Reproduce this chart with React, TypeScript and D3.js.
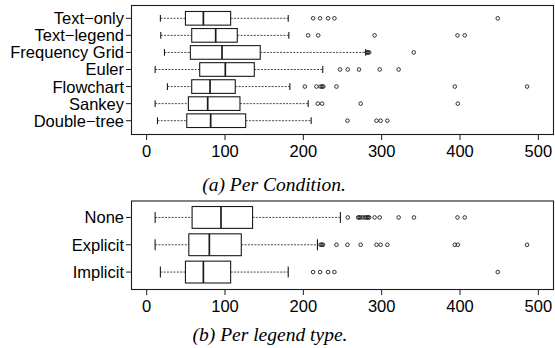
import React, { useEffect, useRef } from 'react';
import * as d3 from 'd3';

// Panel (a): per condition (top row first)
const conditions = ['Text\u2212only', 'Text\u2212legend', 'Frequency Grid', 'Euler', 'Flowchart', 'Sankey', 'Double\u2212tree'];
const condLow = [17.5, 18, 22.7, 10.8, 26.5, 10.8, 13.8];
const condQ1 = [49.5, 57.5, 55.8, 67.7, 57.5, 53.3, 51.2];
const condMedian = [72.4, 88.1, 96.2, 100.4, 80.9, 77.9, 81.7];
const condQ3 = [107.2, 115.7, 145, 137.4, 113.1, 119.1, 126.4];
const condHigh = [180.7, 181.5, 279.6, 224.8, 182.8, 206.2, 210];
const condOutliers = [
  [212.5, 221.4, 231.6, 239.7, 448.2],
  [206.2, 219, 291, 396.8, 406],
  [281, 282.5, 284, 341],
  [246.9, 256.7, 271.1, 297.5, 321.7],
  [201.9, 216.8, 222, 224, 225.5, 242.3, 393.4, 485.6],
  [218.5, 224, 273.2, 397.2],
  [256.3, 293.4, 298.7, 307.2],
];

// Panel (b): per legend type
const legendTypes = ['None', 'Explicit', 'Implicit'];
const legLow = [10.8, 10.8, 17.5];
const legQ1 = [58, 53.8, 49.5];
const legMedian = [94.9, 80, 72.4];
const legQ3 = [135.2, 120.8, 107.2];
const legHigh = [247.3, 218, 180.7];
const legOutliers = [
  [256.7, 270, 271.5, 273, 276, 279, 281, 282.5, 284, 291, 297.5, 321.7, 341.2, 396.8, 406],
  [222, 223.5, 225, 242.3, 256.3, 273.2, 293.4, 298.7, 307.2, 393.4, 397.2, 485.6],
  [212.5, 221.4, 231.6, 239.7, 448.2],
];

const xTicks = [0, 100, 200, 300, 400, 500];

const W = 555;
const H = 348;
const left = 131;
const right = 554;
const ink = '#1a1a1a';
const sans = '"Liberation Sans", Arial, sans-serif';

function drawPanel(svg, opts) {
  const { labels, low, q1, med, q3, high, outliers, top, bottom, caption, captionX, captionY } = opts;
  const n = labels.length;
  // R style: 4% padding round [0, 500] and [0.5, n + 0.5]
  const x = d3.scaleLinear().domain([-20, 520]).range([left, right]);
  const y = d3
    .scaleLinear()
    .domain([0.5 - 0.04 * n, n + 0.5 + 0.04 * n])
    .range([top, bottom]);
  const unit = Math.abs(y(1) - y(0));
  const bw = unit * 0.8;

  const g = svg.append('g');

  g.append('rect')
    .attr('x', left + 0.5)
    .attr('y', top + 0.5)
    .attr('width', right - left - 1)
    .attr('height', bottom - top)
    .attr('fill', 'none')
    .attr('stroke', ink)
    .attr('stroke-width', 1.1);

  const rows = labels.map((label, i) => ({
    label,
    pos: i + 1,
    low: low[i],
    q1: q1[i],
    med: med[i],
    q3: q3[i],
    high: high[i],
    out: outliers[i],
  }));

  const row = g.selectAll('.row').data(rows).enter().append('g');

  // whiskers
  row.append('line')
    .attr('x1', (d) => x(d.low))
    .attr('x2', (d) => x(d.q1))
    .attr('y1', (d) => y(d.pos))
    .attr('y2', (d) => y(d.pos))
    .attr('stroke', ink)
    .attr('stroke-width', 0.8)
    .attr('stroke-dasharray', '2,1.3');
  row.append('line')
    .attr('x1', (d) => x(d.q3))
    .attr('x2', (d) => x(d.high))
    .attr('y1', (d) => y(d.pos))
    .attr('y2', (d) => y(d.pos))
    .attr('stroke', ink)
    .attr('stroke-width', 0.8)
    .attr('stroke-dasharray', '2,1.3');

  // staples
  ['low', 'high'].forEach((k) => {
    row.append('line')
      .attr('x1', (d) => x(d[k]))
      .attr('x2', (d) => x(d[k]))
      .attr('y1', (d) => y(d.pos) - unit * 0.2)
      .attr('y2', (d) => y(d.pos) + unit * 0.2)
      .attr('stroke', ink)
      .attr('stroke-width', 1.1);
  });

  // boxes
  row.append('rect')
    .attr('x', (d) => x(d.q1))
    .attr('y', (d) => y(d.pos) - bw / 2)
    .attr('width', (d) => x(d.q3) - x(d.q1))
    .attr('height', bw)
    .attr('fill', 'white')
    .attr('stroke', ink)
    .attr('stroke-width', 1.1);

  row.append('line')
    .attr('x1', (d) => x(d.med))
    .attr('x2', (d) => x(d.med))
    .attr('y1', (d) => y(d.pos) - bw / 2)
    .attr('y2', (d) => y(d.pos) + bw / 2)
    .attr('stroke', ink)
    .attr('stroke-width', 1.7);

  // outliers
  row.each(function (d) {
    d3.select(this)
      .selectAll('circle')
      .data(d.out)
      .enter()
      .append('circle')
      .attr('cx', (v) => x(v))
      .attr('cy', y(d.pos))
      .attr('r', 1.8)
      .attr('fill', 'none')
      .attr('stroke', ink)
      .attr('stroke-width', 0.9);
  });

  // y axis
  const yAxis = g.append('g');
  rows.forEach((d) => {
    yAxis.append('line')
      .attr('x1', left - 5)
      .attr('x2', left)
      .attr('y1', y(d.pos))
      .attr('y2', y(d.pos))
      .attr('stroke', ink);
    yAxis.append('text')
      .attr('x', left - 7)
      .attr('y', y(d.pos))
      .attr('dy', '0.36em')
      .attr('text-anchor', 'end')
      .attr('font-family', sans)
      .attr('font-size', 16.5)
      .attr('fill', '#000')
      .text(d.label);
  });

  // x axis
  const xAxis = g.append('g');
  xAxis.append('line')
    .attr('x1', x(0))
    .attr('x2', x(500))
    .attr('y1', bottom + 0.5)
    .attr('y2', bottom + 0.5)
    .attr('stroke', ink)
    .attr('stroke-width', 1.2);
  xTicks.forEach((t) => {
    xAxis.append('line')
      .attr('x1', x(t))
      .attr('x2', x(t))
      .attr('y1', bottom)
      .attr('y2', bottom + 6)
      .attr('stroke', ink);
    xAxis.append('text')
      .attr('x', x(t))
      .attr('y', bottom + 22.5)
      .attr('text-anchor', 'middle')
      .attr('font-family', sans)
      .attr('font-size', 16.5)
      .attr('fill', '#000')
      .text(t);
  });

  g.append('text')
    .attr('x', captionX)
    .attr('y', captionY)
    .attr('text-anchor', 'middle')
    .attr('font-family', '"Liberation Serif", "Times New Roman", serif')
    .attr('font-style', 'italic')
    .attr('font-size', 19.5)
    .attr('fill', '#000')
    .text(caption);
}

export default function App() {
  const ref = useRef(null);

  useEffect(() => {
    const svg = d3.select(ref.current);
    svg.selectAll('*').remove();

    drawPanel(svg, {
      labels: conditions,
      low: condLow,
      q1: condQ1,
      med: condMedian,
      q3: condQ3,
      high: condHigh,
      outliers: condOutliers,
      top: 5,
      bottom: 134,
      caption: '(a) Per Condition.',
      captionX: 274,
      captionY: 191,
    });

    drawPanel(svg, {
      labels: legendTypes,
      low: legLow,
      q1: legQ1,
      med: legMedian,
      q3: legQ3,
      high: legHigh,
      outliers: legOutliers,
      top: 200.5,
      bottom: 289,
      caption: '(b) Per legend type.',
      captionX: 270,
      captionY: 341,
    });
  }, []);

  return (
    <svg
      ref={ref}
      width={W}
      height={H}
      style={{ position: 'absolute', left: 0, top: 0, background: 'white' }}
    ></svg>
  );
}
